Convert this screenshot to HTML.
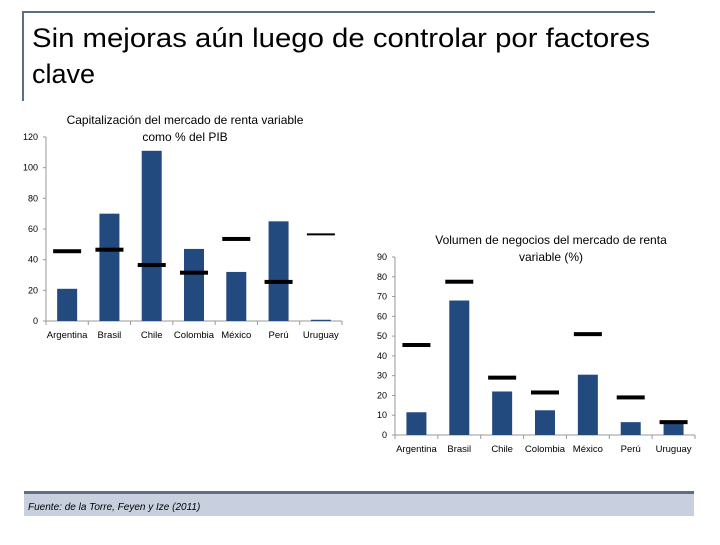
<!DOCTYPE html>
<html><head><meta charset="utf-8"><style>
body{margin:0;background:#fff;width:720px;height:540px;overflow:hidden;font-family:"Liberation Sans",sans-serif}
svg text{font-family:"Liberation Sans",sans-serif}
</style></head><body>
<svg id="s" width="720" height="540" xmlns="http://www.w3.org/2000/svg">
<line x1="22" y1="12" x2="655" y2="12" stroke="#5a6e84" stroke-width="2"/>
<line x1="23" y1="12" x2="23" y2="101" stroke="#5a6e84" stroke-width="2"/>
<text x="32" y="47" font-size="27" fill="#000" textLength="618" lengthAdjust="spacingAndGlyphs">Sin mejoras aún luego de controlar por factores</text>
<text x="32" y="83" font-size="27" fill="#000">clave</text>
<rect x="24" y="491" width="670" height="3" fill="#5a6e84"/>
<rect x="24" y="494" width="670" height="22" fill="#c8d0e0"/>
<text x="28" y="510" font-size="10" font-style="italic" fill="#000">Fuente: de la Torre, Feyen y Ize (2011)</text>
<g id="c1"></g>
<g id="c2"></g>
</svg>
<script>
const categories = ["Argentina","Brasil","Chile","Colombia","México","Perú","Uruguay"];
const capValues = [21, 70, 111, 47, 32, 65, 0.8];
const capBenchmarks = [45.5, 46.5, 36.5, 31.5, 53.5, 25.5, 56.5];
const capTicks = [0, 20, 40, 60, 80, 100, 120];
const volValues = [11.5, 68, 22, 12.5, 30.5, 6.5, 6];
const volBenchmarks = [45.5, 77.5, 29, 21.5, 51, 19, 6.5];
const volTicks = [0, 10, 20, 30, 40, 50, 60, 70, 80, 90];
const NS = "http://www.w3.org/2000/svg";
function mk(g, tag, a){const e=document.createElementNS(NS,tag);for(const k in a)e.setAttribute(k,a[k]);g.appendChild(e);return e;}
function draw(g, cfg){
  const y = v => cfg.y0 - (v - 0) / cfg.max * (cfg.y0 - cfg.yTop);
  const bw = (cfg.x1 - cfg.x0) / categories.length;
  const xc = i => cfg.x0 + bw * (i + 0.5);
  const t1 = mk(g,'text',{x:cfg.titleX,y:cfg.titleY,'font-size':12,'text-anchor':'middle',fill:'#000'});
  t1.textContent = cfg.title1;
  
  
  const t2 = mk(g,'text',{x:cfg.titleX,y:cfg.titleY+17,'font-size':12,'text-anchor':'middle',fill:'#000'});
  t2.textContent = cfg.title2;
  
  
  const ax = mk(g,'line',{x1:cfg.x0,y1:cfg.y0,x2:cfg.x0,y2:cfg.yTop,stroke:'#999'});
  
  
  const bx = mk(g,'line',{x1:cfg.x0,y1:cfg.y0,x2:cfg.x1,y2:cfg.y0,stroke:'#999'});
  
  
  cfg.ticks.forEach(t=>{
    const l = mk(g,'text',{x:cfg.x0-8,y:y(t)+3,'font-size':9,'text-anchor':'end',fill:'#000'});
    l.textContent = t;
    
    
    mk(g,'line',{x1:cfg.x0-3,y1:y(t),x2:cfg.x0,y2:y(t),stroke:'#999'});
  });
  for(let i=0;i<=categories.length;i++){
    mk(g,'line',{x1:cfg.x0+bw*i,y1:cfg.y0,x2:cfg.x0+bw*i,y2:cfg.y0+4,stroke:'#999'});
  }
  categories.forEach((c,i)=>{
    const v = cfg.values[i];
    const r = mk(g,'rect',{x:xc(i)-10,y:y(v),width:20,height:cfg.y0-y(v),fill:'#234a7e'});
    
    
    const b = cfg.bench[i];
    const m = mk(g,'rect',{x:xc(i)-14,y:y(b)-(i==6&&cfg.thinLast?1:2),width:28,height:(i==6&&cfg.thinLast?2:4),fill:'#000'});
    
    
    const l = mk(g,'text',{x:xc(i),y:cfg.y0+17,'font-size':9.5,'text-anchor':'middle',fill:'#000'});
    l.textContent = c;
    
    
  });
}
draw(document.getElementById('c1'),{x0:46,x1:342,y0:321,yTop:137,max:120,values:capValues,bench:capBenchmarks,ticks:capTicks,title1:'Capitalización del mercado de renta variable',title2:'como % del PIB',titleX:185,titleY:124,thinLast:true});
draw(document.getElementById('c2'),{x0:395,x1:695,y0:435,yTop:257,max:90,values:volValues,bench:volBenchmarks,ticks:volTicks,title1:'Volumen de negocios del mercado de renta',title2:'variable (%)',titleX:551,titleY:244,thinLast:false});
</script>
</body></html>
